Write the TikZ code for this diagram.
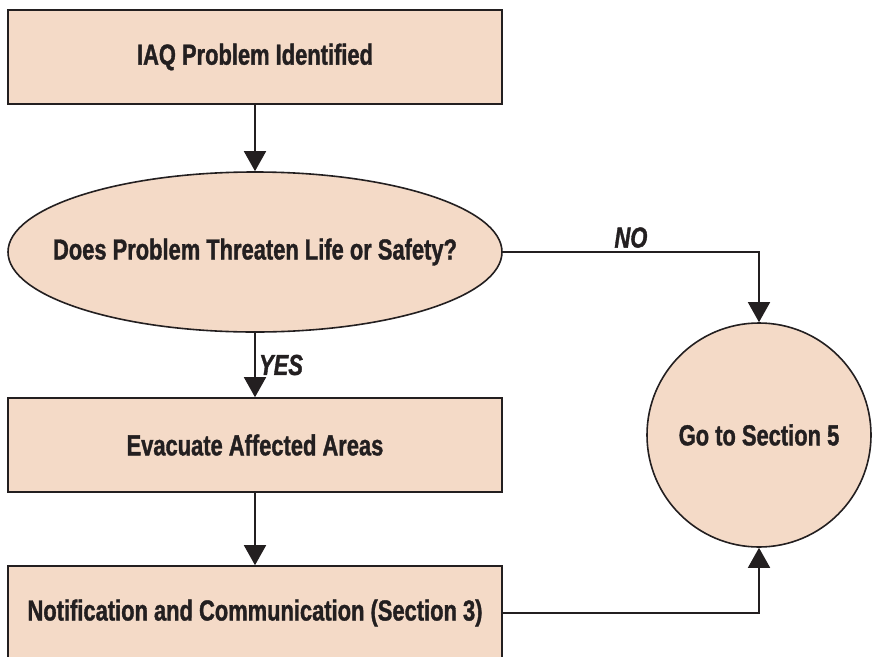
\documentclass[tikz,border=0pt]{standalone}
\usepackage{fontspec}
\setmainfont{Liberation Sans}[FakeStretch=0.755,BoldFeatures={FakeBold=1.2},BoldItalicFeatures={FakeBold=1.2}]
\usetikzlibrary{shapes.geometric,arrows.meta}
\definecolor{peach}{RGB}{244,218,199}
\definecolor{ink}{RGB}{35,31,32}

\begin{document}
\begin{tikzpicture}[x=1pt,y=-1pt,line width=1.6pt,draw=ink,
    every node/.style={font=\fontsize{29}{34}\selectfont\bfseries,text=ink},
    box/.style={draw,fill=peach,minimum width=494pt,minimum height=94pt,inner sep=0pt},
    flow/.style={-{Triangle[width=22pt,length=20pt]}},
    answer/.style={font=\fontsize{29}{34}\selectfont\bfseries\itshape}]
      % \draw[help lines](0,0) grid (872,656);
      \clip (0,0) rectangle (872,656);

      \draw (255,57) node[box] (ident) {IAQ Problem Identified};
      \draw (255,252) node[ellipse,draw,fill=peach,minimum width=494pt,minimum height=160pt,inner xsep=-80pt,inner ysep=0pt] (threat) {Does Problem Threaten Life or Safety?};
      \draw (255,445) node[box] (evac) {Evacuate Affected Areas};
      \draw (255,613) node[box] (notify) {Notification and Communication (Section 3)};
      \draw (759,435) node[circle,draw,fill=peach,minimum size=224pt,inner sep=0pt] (sect) {Go to Section 5};

      \draw [flow] (ident) -- (threat);
      \draw [flow] (threat.east) -| (sect.north) node [pos=0.25,above,answer] {NO};
      \draw [flow] (threat) -- (evac) node [midway,right,answer] {YES};
      \draw [flow] (evac) -- (notify);
      \draw [flow] (notify.east) -| (sect.south);
    \end{tikzpicture}
\end{document}
